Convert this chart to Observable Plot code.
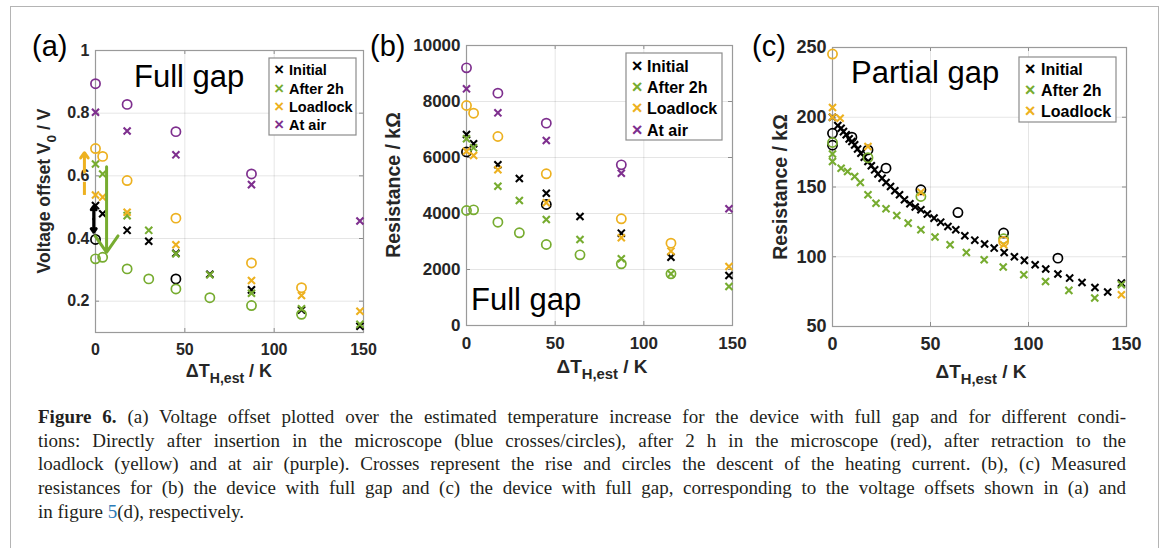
<!DOCTYPE html>
<html>
<head>
<meta charset="utf-8">
<script src="https://cdn.jsdelivr.net/npm/d3@7"></script>
<script src="https://cdn.jsdelivr.net/npm/@observablehq/plot@0.6"></script>
<style>
  html, body { margin: 0; padding: 0; background: #fff; }
  #page { position: relative; width: 1168px; height: 548px; overflow: hidden; background: #fff; }
  #frame { position: absolute; left: 10px; top: 6px; width: 1149px; height: 600px; border: 1.5px solid #b4b4b4; box-sizing: border-box; }
  .panel { position: absolute; top: 0; }
  #overlay { position: absolute; left: 0; top: 0; }
  #caption { position: absolute; left: 38px; top: 405px; width: 1088px; font-family: "Liberation Serif", "DejaVu Serif", serif; font-size: 19px; line-height: 23.7px; color: #231f20; }
  #caption div { text-align: justify; text-align-last: justify; white-space: nowrap; }
  #caption div.last { text-align-last: left; }
  #caption .link { color: #2d7cb8; }
</style>
</head>
<body>
<div id="page">
  <div id="frame"></div>
  <div id="pa" class="panel" style="left:0px"></div>
  <div id="pb" class="panel" style="left:370px"></div>
  <div id="pc" class="panel" style="left:750px"></div>
  <svg id="overlay" width="1168" height="400"></svg>
  <div id="caption">
    <div><b>Figure 6.</b> (a) Voltage offset plotted over the estimated temperature increase for the device with full gap and for different condi-</div>
    <div>tions: Directly after insertion in the microscope (blue crosses/circles), after 2 h in the microscope (red), after retraction to the</div>
    <div>loadlock (yellow) and at air (purple). Crosses represent the rise and circles the descent of the heating current. (b), (c) Measured</div>
    <div>resistances for (b) the device with full gap and (c) the device with full gap, corresponding to the voltage offsets shown in (a) and</div>
    <div class="last">in figure <span class="link">5</span>(d), respectively.</div>
  </div>
</div>
<script>
// ---------------- DATA ----------------
const conditions = ["Initial", "After 2h", "Loadlock", "At air"];
const conditionColors = ["#000000", "#77ac30", "#edb120", "#7e2f8e"];
const xTicks = [0, 50, 100, 150];

// Panel (a) and (b): heating steps (ΔT_H,est / K)
const tempFull = [0, 4, 17.7, 29.8, 45, 64, 87.3, 115.3, 148];

// (a) Voltage offset V0 / V — crosses = rise, circles = descent
const vInitialRise   = [0.505, 0.479, 0.426, 0.391, 0.353, 0.286, 0.236, 0.172, 0.120];
const vInitialDesc   = [0.397, null, null, null, 0.271, null, null, null, null];
const vAfter2hRise   = [0.638, 0.606, 0.473, 0.426, 0.351, 0.284, 0.225, 0.176, 0.126];
const vAfter2hDesc   = [0.335, 0.340, 0.303, 0.271, 0.239, 0.211, 0.186, 0.158, null];
const vLoadlockRise  = [0.539, 0.532, 0.484, null, 0.380, null, 0.266, 0.218, 0.168];
const vLoadlockDesc  = [0.687, 0.662, 0.585, null, 0.465, null, 0.322, 0.243, null];
const vAtAirRise     = [0.803, null, 0.743, null, 0.667, null, 0.572, null, 0.456];
const vAtAirDesc     = [0.894, null, 0.828, null, 0.741, null, 0.606, null, null];
const yTicksA = [0.2, 0.4, 0.6, 0.8, 1];

// (a) arrows: x, y from, y to
const arrowOrangeSolid = [{x: -6.2, y1: 0.612, y2: 0.674}];
const dashOrange       = [{x: -6.2, y1: 0.539, y2: 0.581}];
const arrowBlackUp     = [{x: -1, y1: 0.462, y2: 0.503}];
const arrowBlackDown   = [{x: -1, y1: 0.462, y2: 0.420}];
const arrowGreen       = [{x: 6.2, y1: 0.629, y2: 0.356}];

// (b) Resistance / kΩ (full gap)
const rInitialRise   = [6821, 6488, 5738, 5250, 4726, 3893, 3298, 2440, 1786];
const rInitialDesc   = [6200, null, null, null, 4321, null, null, null, null];
const rAfter2hRise   = [6667, 6345, 4976, 4464, 3786, 3071, 2381, 1845, 1393];
const rAfter2hDesc   = [4107, 4131, 3690, 3310, 2893, 2524, 2202, 1845, null];
const rLoadlockRise  = [6226, 6071, 5560, null, 4381, null, 3131, 2655, 2107];
const rLoadlockDesc  = [7857, 7583, 6750, null, 5417, null, 3810, 2940, null];
const rAtAirRise     = [8452, null, 7595, null, 6607, null, 5440, null, 4167];
const rAtAirDesc     = [9202, null, 8298, null, 7226, null, 5738, null, null];
const yTicksB = [0, 2000, 4000, 6000, 8000, 10000];

// (c) Resistance / kΩ (partial gap)
const cInitialRiseT = [0, 2.7, 4.4, 5.6, 7, 8.5, 9.9, 11.3, 12.8, 14.5, 16.2, 18.1, 19.8, 21.5, 23.2, 25.3, 27.3, 29.6, 31.8, 34.2, 36.7, 39.5, 42.2, 45.1, 48.4, 51.8, 55.2, 58.9, 62.9, 67.5, 72.6, 77.6, 82.5, 87.6, 92.8, 97.9, 103.4, 108.8, 115, 121, 127.3, 133.9, 140.4, 147.4];
const cInitialRiseR = [200, 194, 192.1, 189.7, 187.4, 184.5, 182.6, 180.2, 177.3, 174.2, 171.4, 168.3, 165.2, 162.3, 159.4, 156.3, 153.2, 150.4, 147.3, 144.4, 140.8, 138, 135.6, 133.7, 130.6, 127.7, 124.8, 121.7, 119.3, 115, 111.9, 109.1, 106.2, 103.1, 100, 97.4, 94.3, 91.2, 87.6, 84.7, 81.6, 78, 74.7, 81.1];
const cInitialDescT = [0, 0, 9.9, 18.1, 27.3, 45.1, 64, 87.3, 115];
const cInitialDescR = [188.5, 180, 185.7, 176.6, 163.5, 148, 131.7, 117, 99];
const cAfter2hRiseT = [0, 0, 4.4, 7.7, 11.3, 14.2, 18.1, 22.2, 27.3, 32.8, 38.6, 45.1, 52.3, 60, 68.3, 77.4, 87.1, 97.6, 108.7, 120.6, 133.8, 147.4];
const cAfter2hRiseR = [173.7, 168.3, 163.5, 161.1, 157.5, 153.2, 144.4, 138.4, 134.4, 129.6, 124.1, 119.3, 114.1, 108.6, 103.1, 97.9, 92.6, 87.1, 82.3, 75.9, 70.4, 80];
const cAfter2hDescT = [0, 18.1, 45.1, 87.3];
const cAfter2hDescR = [181.9, 171, 143.2, 112.9];
const cLoadlockRiseT = [0, 0, 3.9, 18.1, 45.1, 87.3, 147.4];
const cLoadlockRiseR = [207, 200, 199.3, 179, 146.3, 108.6, 72.8];
const cLoadlockDescT = [0, 87.3];
const cLoadlockDescR = [245.3, 111];
const yTicksC = [50, 100, 150, 200, 250];

// ---------------- HELPERS ----------------
const FONT = "'Liberation Sans', Arial, Helvetica, sans-serif";
const rows = (xs, ys) => xs.map((x, i) => ({x, y: ys[i]})).filter(d => d.y != null);

function seriesMarks(list) {
  const m = [];
  for (const s of list) {
    if (s.desc && s.desc.length) m.push(Plot.dot(s.desc, {x: "x", y: "y", r: 4.6, stroke: s.color, strokeWidth: 1.7, fill: "none"}));
    if (s.rise && s.rise.length) m.push(Plot.dot(s.rise, {x: "x", y: "y", symbol: "times", r: 3.3, stroke: s.color, strokeWidth: 2.1}));
  }
  return m;
}

function panel({el, width, height, mt, mr, mb, ml, yDomain, yTicks, fontSize, extra = [], series}) {
  const ih = height - mt - mb, iw = width - ml - mr;
  const tickStyle = {stroke: "#8c8c8c", strokeWidth: 1};
  const chart = Plot.plot({
    width, height,
    marginTop: mt, marginRight: mr, marginBottom: mb, marginLeft: ml,
    style: {fontFamily: FONT, fontWeight: "bold", fontSize: fontSize + "px", color: "#262626", background: "transparent", overflow: "visible"},
    x: {domain: [0, 150]},
    y: {domain: yDomain},
    marks: [
      Plot.gridX(xTicks.slice(1, -1), {stroke: "#000", strokeOpacity: 0.1}),
      Plot.gridY(yTicks.filter(t => t !== yDomain[0] && t !== yDomain[1]), {stroke: "#000", strokeOpacity: 0.1}),
      Plot.ruleX(xTicks, {...tickStyle, insetTop: ih - 4}),
      Plot.ruleX(xTicks, {...tickStyle, insetBottom: ih - 4}),
      Plot.ruleY(yTicks, {...tickStyle, insetRight: iw - 4}),
      Plot.ruleY(yTicks, {...tickStyle, insetLeft: iw - 4}),
      Plot.frame({stroke: "#9a9a9a", strokeWidth: 1.2}),
      Plot.axisX({ticks: xTicks, tickSize: 0, tickPadding: 11, tickFormat: d => String(d), label: null, fontSize, fontWeight: "bold", fill: "#262626"}),
      Plot.axisY({ticks: yTicks, tickSize: 0, tickPadding: 6, tickFormat: d => String(d), label: null, fontSize, fontWeight: "bold", fill: "#262626"}),
      ...seriesMarks(series),
      ...extra
    ]
  });
  document.getElementById(el).appendChild(chart);
}

// ---------------- PANEL (a) ----------------
panel({
  el: "pa", width: 370, height: 365, mt: 50, mr: 7, mb: 33, ml: 95,
  yDomain: [0.1, 1], yTicks: yTicksA, fontSize: 16,
  series: [
    {rise: rows(tempFull, vInitialRise), desc: rows(tempFull, vInitialDesc), color: conditionColors[0]},
    {rise: rows(tempFull, vAfter2hRise), desc: rows(tempFull, vAfter2hDesc), color: conditionColors[1]},
    {rise: rows(tempFull, vLoadlockRise), desc: rows(tempFull, vLoadlockDesc), color: conditionColors[2]},
    {rise: rows(tempFull, vAtAirRise), desc: rows(tempFull, vAtAirDesc), color: conditionColors[3]}
  ],
  extra: [
    Plot.arrow(arrowOrangeSolid, {x: "x", y1: "y1", y2: "y2", stroke: conditionColors[2], strokeWidth: 3, headLength: 9, headAngle: 70}),
    Plot.link(dashOrange, {x: "x", y1: "y1", y2: "y2", stroke: conditionColors[2], strokeWidth: 3}),
    Plot.arrow(arrowBlackUp, {x: "x", y1: "y1", y2: "y2", stroke: "#000", strokeWidth: 3, headLength: 8, headAngle: 70}),
    Plot.arrow(arrowBlackDown, {x: "x", y1: "y1", y2: "y2", stroke: "#000", strokeWidth: 3, headLength: 8, headAngle: 70}),
    Plot.arrow(arrowGreen, {x: "x", y1: "y1", y2: "y2", stroke: conditionColors[1], strokeWidth: 3, headLength: 10, headAngle: 70})
  ]
});

// ---------------- PANEL (b) ----------------
panel({
  el: "pb", width: 380, height: 360, mt: 45, mr: 18, mb: 35, ml: 96,
  yDomain: [0, 10000], yTicks: yTicksB, fontSize: 17,
  series: [
    {rise: rows(tempFull, rInitialRise), desc: rows(tempFull, rInitialDesc), color: conditionColors[0]},
    {rise: rows(tempFull, rAfter2hRise), desc: rows(tempFull, rAfter2hDesc), color: conditionColors[1]},
    {rise: rows(tempFull, rLoadlockRise), desc: rows(tempFull, rLoadlockDesc), color: conditionColors[2]},
    {rise: rows(tempFull, rAtAirRise), desc: rows(tempFull, rAtAirDesc), color: conditionColors[3]}
  ]
});

// ---------------- PANEL (c) ----------------
panel({
  el: "pc", width: 418, height: 360, mt: 47, mr: 42, mb: 34, ml: 82,
  yDomain: [50, 250], yTicks: yTicksC, fontSize: 18,
  series: [
    {rise: rows(cInitialRiseT, cInitialRiseR), desc: rows(cInitialDescT, cInitialDescR), color: conditionColors[0]},
    {rise: rows(cAfter2hRiseT, cAfter2hRiseR), desc: rows(cAfter2hDescT, cAfter2hDescR), color: conditionColors[1]},
    {rise: rows(cLoadlockRiseT, cLoadlockRiseR), desc: rows(cLoadlockDescT, cLoadlockDescR), color: conditionColors[2]}
  ]
});

// ---------------- ANNOTATIONS (text) ----------------
const ov = d3.select("#overlay").style("font-family", FONT);

function label(x, y, txt, opts = {}) {
  const t = ov.append("text").attr("x", x).attr("y", y)
    .attr("font-size", opts.size || 16).attr("font-weight", opts.weight || "normal")
    .attr("fill", opts.fill || "#000").attr("text-anchor", opts.anchor || "start");
  if (opts.rotate) t.attr("transform", `rotate(-90 ${x} ${y})`);
  t.text(txt);
  return t;
}
function subLabel(x, y, main, sub, rest, size, rotate) {
  const t = ov.append("text").attr("x", x).attr("y", y).attr("font-size", size)
    .attr("font-weight", "bold").attr("fill", "#262626").attr("text-anchor", "middle");
  if (rotate) t.attr("transform", `rotate(-90 ${x} ${y})`);
  t.append("tspan").text(main);
  t.append("tspan").attr("font-size", size * 0.78).attr("dy", size * 0.33).text(sub);
  t.append("tspan").attr("dy", -size * 0.33).text(rest);
  return t;
}

// panel letters
label(32, 56, "(a)", {size: 29});
label(370, 56, "(b)", {size: 29});
label(752, 56, "(c)", {size: 29});

// big in-plot texts
label(134, 87, "Full gap", {size: 31});
label(471, 310, "Full gap", {size: 31});
label(851, 83, "Partial gap", {size: 31});

// axis labels
subLabel(50, 191, "Voltage offset V", "0", " / V", 17.5, true);
subLabel(400, 185, "Resistance / k\u03A9", "", "", 19.5, true);
subLabel(787, 187, "Resistance / k\u03A9", "", "", 19.5, true);
subLabel(229, 377, "\u0394T", "H,est", " / K", 18);
subLabel(602, 373, "\u0394T", "H,est", " / K", 19);
subLabel(981, 378, "\u0394T", "H,est", " / K", 19);

// legends
function legend(x, y, w, h, names, firstY, step, markX, textX, size) {
  ov.append("rect").attr("x", x).attr("y", y).attr("width", w).attr("height", h)
    .attr("fill", "#fff").attr("stroke", "#8c8c8c").attr("stroke-width", 1.2);
  names.forEach((n, i) => {
    const cy = firstY + i * step;
    label(markX, cy + size * 0.36, "\u00D7", {size: size * 1.15, weight: "bold", fill: conditionColors[i], anchor: "middle"});
    label(textX, cy + size * 0.36, n, {size, weight: "bold", fill: "#000"});
  });
}
legend(269, 58, 87, 77, conditions, 70, 18.3, 279, 289, 14.5);
legend(626, 53, 96, 87, conditions, 66, 21.3, 637, 647, 16);
legend(1019, 57, 97, 65, conditions.slice(0, 3), 69.3, 21.2, 1030, 1041, 16);
</script>
</body>
</html>
